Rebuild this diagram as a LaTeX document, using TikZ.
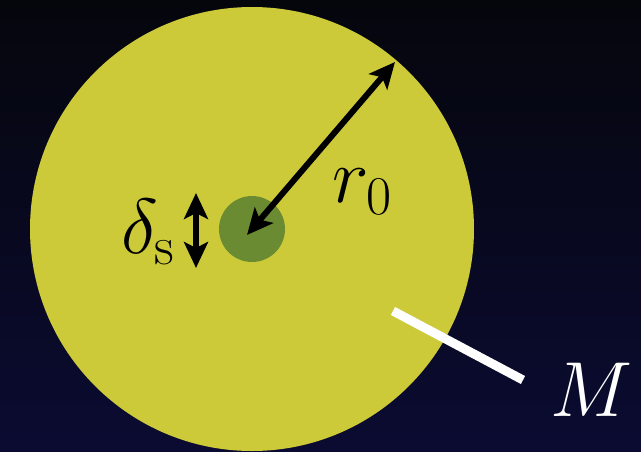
\RequirePackage{fix-cm}
\documentclass[tikz,border=0pt]{standalone}
\usepackage{amsmath}
\usepackage{xcolor}
\usetikzlibrary{arrows.meta,calc}

\definecolor{skytop}{HTML}{05060C}
\definecolor{skybot}{HTML}{0B0B32}
\definecolor{starcol}{HTML}{CDCA3A}
\definecolor{corecol}{HTML}{6A8B31}

\tikzset{
  bigarr/.style={line width=6pt,
    arrows={Stealth[length=26pt, width=24pt, inset=6pt]-Stealth[length=26pt, width=24pt, inset=6pt]}},
  biglbl/.style={font=\fontsize{78}{88}\selectfont, inner sep=0pt}
}

\begin{document}
\begin{tikzpicture}[x=1pt, y=-1pt]
  % Background, fixed to the frame
  \shade[top color=skytop, bottom color=skybot]
    (0,0) rectangle (641,451);
  \useasboundingbox (0,0) rectangle (641,451);

  % Star and its core
  \begin{scope}
    \clip (0,0) rectangle (641,451);
    \node[circle, fill=starcol, minimum size=444pt, inner sep=0pt, outer sep=0pt]
      (star) at (252,229) {};
  \end{scope}
  \node[circle, fill=corecol, minimum size=66pt, inner sep=0pt, outer sep=0pt]
    (core) at (252,229) {};

  % Radius arrow
  \coordinate (rin) at (247,235);
  \coordinate (rout) at (395,62);
  \draw[bigarr] (rin) -- (rout);
  \node[biglbl] (rlbl) at (362,192) {$r_0$};

  % Core size arrow
  \coordinate (dtop) at (196,193);
  \coordinate (dbot) at (196,268);
  \draw[bigarr] (dtop) -- (dbot);
  \node[biglbl] (dlbl) at (148,232) {$\delta_{\mathrm{s}}$};

  % Mass pointer
  \coordinate (mfrom) at (393,311);
  \coordinate (mto) at (523,380);
  \node[biglbl, text=white] (mlbl) at (592,390) {$M$};
  \draw[white, line width=9pt] (mfrom) -- (mto);
\end{tikzpicture}
\end{document}
